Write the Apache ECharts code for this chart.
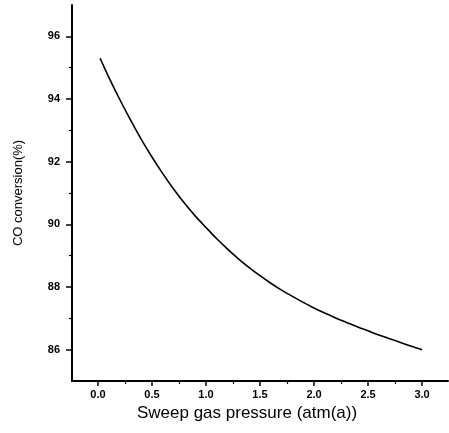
<!DOCTYPE html>
<html>
<head>
<meta charset="utf-8">
<script src="https://cdn.jsdelivr.net/npm/echarts@6/dist/echarts.min.js"></script>
<style>html,body{margin:0;padding:0;background:#fff}#c{width:449px;height:433px}</style>
</head>
<body>
<div id="c"></div>
<script>
// Data
const pressure = [0.02, 0.1, 0.2, 0.3, 0.4, 0.5, 0.6, 0.7, 0.8, 0.9, 1.0, 1.1, 1.2, 1.3, 1.4, 1.5, 1.6, 1.7, 1.8, 1.9, 2.0, 2.1, 2.2, 2.3, 2.4, 2.5, 2.6, 2.7, 2.8, 2.9, 3.0];
const conversion = [95.3, 94.7, 94.0, 93.34, 92.72, 92.15, 91.62, 91.13, 90.68, 90.27, 89.9, 89.54, 89.21, 88.9, 88.62, 88.36, 88.12, 87.9, 87.7, 87.51, 87.33, 87.17, 87.01, 86.87, 86.73, 86.6, 86.47, 86.35, 86.23, 86.11, 86.0];
const xTickLabels = [0.0, 0.5, 1.0, 1.5, 2.0, 2.5, 3.0];
const xMinorTicks = [0.25, 0.75, 1.25, 1.75, 2.25, 2.75];
const yTickLabels = [86, 88, 90, 92, 94, 96];
const yMinorTicks = [87, 89, 91, 93, 95];

const chart = echarts.init(document.getElementById('c'), null, {renderer: 'canvas'});
const seriesData = pressure.map((p, i) => [p, conversion[i]]);
const lblFont = {color: '#000', fontFamily: 'Liberation Sans, Arial, sans-serif', fontWeight: 'bold', fontSize: 11};
const axisLineStyle = {color: '#000', width: 2};

chart.setOption({
  animation: false,
  backgroundColor: '#fff',
  grid: {left: 72, right: 1, top: 5, bottom: 52, containLabel: false},
  xAxis: [{
    type: 'value', min: -0.24, max: 3.24,
    axisLine: {show: true, onZero: false, lineStyle: axisLineStyle},
    axisTick: {show: true, inside: false, length: 5, customValues: xTickLabels, lineStyle: {color: '#000', width: 1.5}},
    axisLabel: {show: true, margin: 8, customValues: xTickLabels, formatter: v => v.toFixed(1), ...lblFont},
    splitLine: {show: false},
    name: 'Sweep gas pressure (atm(a))', nameLocation: 'middle', nameGap: 18,
    nameTextStyle: {color: '#000', fontFamily: 'Liberation Sans, Arial, sans-serif', fontSize: 17, padding: [0, 26, 0, 0]}
  }, {
    type: 'value', min: -0.24, max: 3.24, position: 'bottom',
    axisLine: {show: false, onZero: false},
    axisTick: {show: true, inside: false, length: 3, customValues: xMinorTicks, lineStyle: {color: '#000', width: 1.2}},
    axisLabel: {show: false}, splitLine: {show: false}
  }],
  yAxis: [{
    type: 'value', min: 85, max: 97,
    axisLine: {show: true, onZero: false, lineStyle: axisLineStyle},
    axisTick: {show: true, inside: false, length: 6, customValues: yTickLabels, lineStyle: {color: '#000', width: 1.5}},
    axisLabel: {show: true, margin: 12, customValues: yTickLabels, ...lblFont},
    splitLine: {show: false},
    name: 'CO conversion(%)', nameLocation: 'middle', nameGap: 47, nameRotate: 90,
    nameTextStyle: {color: '#000', fontFamily: 'Liberation Sans, Arial, sans-serif', fontSize: 13}
  }, {
    type: 'value', min: 85, max: 97, position: 'left',
    axisLine: {show: false, onZero: false},
    axisTick: {show: true, inside: false, length: 3, customValues: yMinorTicks, lineStyle: {color: '#000', width: 1.2}},
    axisLabel: {show: false}, splitLine: {show: false}
  }],
  series: [{
    type: 'line', xAxisIndex: 0, yAxisIndex: 0,
    data: seriesData, smooth: 0.3, showSymbol: false, symbol: 'none',
    lineStyle: {color: '#000', width: 1.6}
  }]
});
</script>
</body>
</html>
